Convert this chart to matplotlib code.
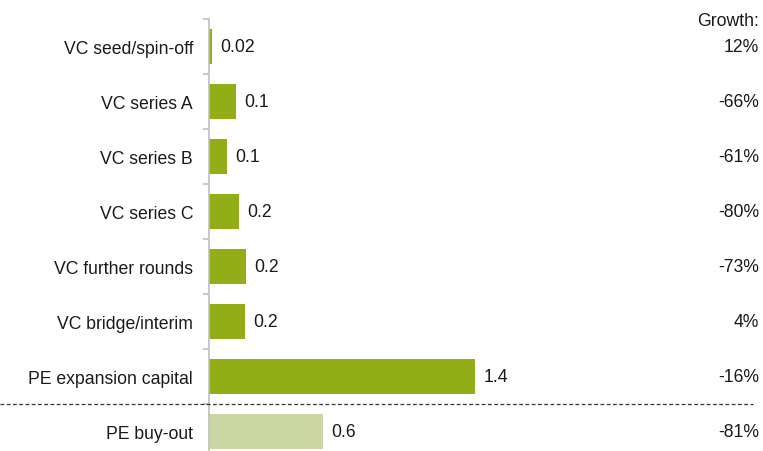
import matplotlib
matplotlib.use('Agg')
import matplotlib.pyplot as plt
import matplotlib.transforms as mtransforms
from matplotlib.lines import Line2D

plt.rcParams['font.family'] = ['Liberation Sans', 'DejaVu Sans']

# data
categories = ['VC seed/spin-off', 'VC series A', 'VC series B', 'VC series C',
              'VC further rounds', 'VC bridge/interim', 'PE expansion capital',
              'PE buy-out']
values = [0.017, 0.142, 0.093, 0.156, 0.195, 0.188, 1.40, 0.598]
value_labels = ['0.02', '0.1', '0.1', '0.2', '0.2', '0.2', '1.4', '0.6']
growth = ['12%', '-66%', '-61%', '-80%', '-73%', '4%', '-16%', '-81%']

DARK = '#92AE17'
LIGHT = '#CBD7A2'
colors = [DARK] * 7 + [LIGHT]
FS = 12.7

W, H = 763, 452
fig = plt.figure(figsize=(W / 100, H / 100), dpi=100)
# axes placed in pixel terms: spine at x=209, top at y=20, one row = 55 px
ax_left, ax_top, ax_right = 209, 20, 700
ax = fig.add_axes([ax_left / W, 0, (ax_right - ax_left) / W, 1 - ax_top / H])

ypos = list(range(len(categories)))
ax.barh(ypos, values, height=0.62, color=colors, zorder=2)

for y, v, lab in zip(ypos, values, value_labels):
    ax.annotate(lab, (v, y), xytext=(6, 0), textcoords='offset points',
                ha='left', va='center', fontsize=FS, color='#1a1a1a')

# spines and ticks
for s in ['top', 'right', 'bottom']:
    ax.spines[s].set_visible(False)
ax.spines['left'].set_color('#BFBFBF')
ax.spines['left'].set_linewidth(1.2)
ax.set_xticks([])
ax.set_yticks(ypos)
ax.set_yticklabels(categories, fontsize=FS, color='#1a1a1a')
ax.tick_params(axis='y', which='major', length=0, pad=11.5)
ax.set_yticks([i - 0.5 for i in range(len(categories) + 1)], minor=True)
ax.tick_params(axis='y', which='minor', length=4, color='#BFBFBF', width=1.2)

# limits last so tick setting does not widen them
ax.set_xlim(0, (ax_right - ax_left) / 190.0)
ax.set_ylim(-0.5 + (H - ax_top) / 55.0, -0.5)

# growth column on the right
trans = mtransforms.blended_transform_factory(fig.transFigure, ax.transData)
for y, g in zip(ypos, growth):
    fig.text(759 / W, y, g, transform=trans, ha='right', va='center',
             fontsize=FS, color='#1a1a1a')
fig.text(759 / W, 1 - 21 / H, 'Growth:', ha='right', va='center',
         fontsize=FS, color='#1a1a1a')

# dashed separator between VC/expansion and buy-out
fig.add_artist(Line2D([0, 753 / W], [6.5, 6.5], transform=trans,
                      color='#333333', linestyle=(0, (3, 2)), linewidth=0.9))

fig.savefig('out.png', dpi=100)
